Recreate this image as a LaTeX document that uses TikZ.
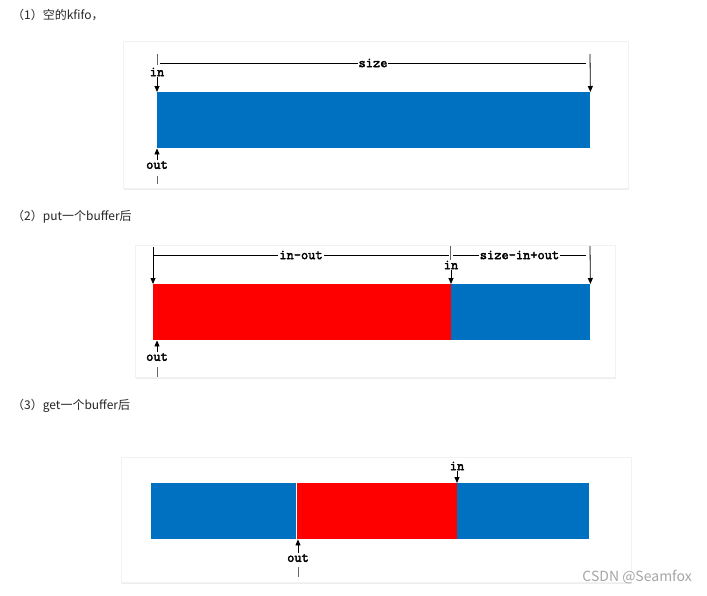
\documentclass[tikz,border=0pt]{standalone}
\usepackage{fontspec}
\newfontfamily\cjkfont{Noto Sans CJK SC}
\newfontfamily\lblfont{Latin Modern Mono}[FakeBold=2.5]
\usetikzlibrary{arrows.meta}
\definecolor{fifoblue}{HTML}{0070C0}
\definecolor{fifored}{HTML}{FF0000}
\tikzset{
  card/.style={fill=white, draw=black!5},
  cardshadow/.style={fill=black!7, draw=none},
  bluebar/.style={fill=fifoblue, draw=none, inner sep=0pt, anchor=north west},
  redbar/.style={fill=fifored, draw=none, inner sep=0pt, anchor=north west},
  lbl/.style={font=\lblfont\fontsize{14}{14}\selectfont, inner sep=0.5pt},
  heading/.style={font=\cjkfont\fontsize{12}{13}\selectfont, text=black!85, anchor=west, inner sep=0pt},
  ptr/.style={-{Triangle[length=6pt,width=5pt]}, line width=0.8pt},
  dim/.style={line width=0.6pt},
  tick/.style={line width=0.8pt, black!60}
}
\begin{document}
\begin{tikzpicture}[x=1pt, y=-1pt]
  \useasboundingbox[fill=white] (0,0) rectangle (707,595);

  %cards
  \fill[cardshadow] (124,43) rectangle (629,190);
  \draw[card] (123,41) rectangle (628,188);
  \fill[cardshadow] (136,247) rectangle (616,379);
  \draw[card] (135,245) rectangle (615,377);
  \fill[cardshadow] (122,459) rectangle (632,584);
  \draw[card] (121,457) rectangle (631,582);

  %headings
  \node[heading] (t1) at (12,15) {（1）空的kfifo，};
  \node[heading] (t2) at (12,217) {（2）put一个buffer后};
  \node[heading] (t3) at (12,406) {（3）get一个buffer后};

  %(1) empty
  \node[bluebar, minimum width=433pt, minimum height=56pt] (buf1) at (157,92) {};
  \node[lbl] (in1) at (157,72) {in};
  \node[lbl] (out1) at (157,165) {out};
  \draw[ptr] (in1.south) -- (buf1.north west);
  \draw[ptr] (out1.north) -- (buf1.south west);
  \draw[ptr] (590,54) -- (buf1.north east);
  \draw[tick] (157,54) -- (157,65);
  \draw[tick] (157,176) -- (157,184);
  \draw[dim] (160,63) -- node[lbl, fill=white, inner xsep=1pt] (size1) {size} (586,63);

  %(2) after put
  \node[redbar, minimum width=298pt, minimum height=56pt] (used2) at (153,284) {};
  \node[bluebar, minimum width=139pt, minimum height=56pt] (free2) at (451,284) {};
  \node[lbl] (in2) at (451,265) {in};
  \node[lbl] (out2) at (157,357) {out};
  \draw[ptr] (in2.south) -- (free2.north west);
  \draw[ptr] (out2.north) -- (out2.north |- used2.south);
  \draw[ptr] (153,247) -- (used2.north west);
  \draw[ptr] (590,246) -- (free2.north east);
  \draw[tick] (450,246) -- (450,260);
  \draw[tick] (157,367) -- (157,377);
  \draw[dim] (153,255) -- node[lbl, fill=white, inner xsep=1pt] (len2) {in-out} (449,255);
  \draw[dim] (453,255) -- node[lbl, fill=white, inner xsep=1pt] (room2) {size-in+out} (586,255);

  %(3) after get
  \node[bluebar, minimum width=145pt, minimum height=56pt] (freea3) at (151,483) {};
  \node[redbar, minimum width=160pt, minimum height=56pt] (used3) at (297,483) {};
  \node[bluebar, minimum width=132pt, minimum height=56pt] (freeb3) at (457,483) {};
  \node[lbl] (in3) at (457,466) {in};
  \node[lbl] (out3) at (298,558) {out};
  \draw[ptr] (in3.south) -- (freeb3.north west);
  \draw[ptr] (out3.north) -- (out3.north |- used3.south);
  \draw[tick] (298,567) -- (298,577);

  %watermark
  \node[font=\cjkfont\fontsize{14}{15}\selectfont, text=black!35, anchor=east, inner sep=0pt] (mark) at (692,577) {CSDN @Seamfox};
\end{tikzpicture}
\end{document}
